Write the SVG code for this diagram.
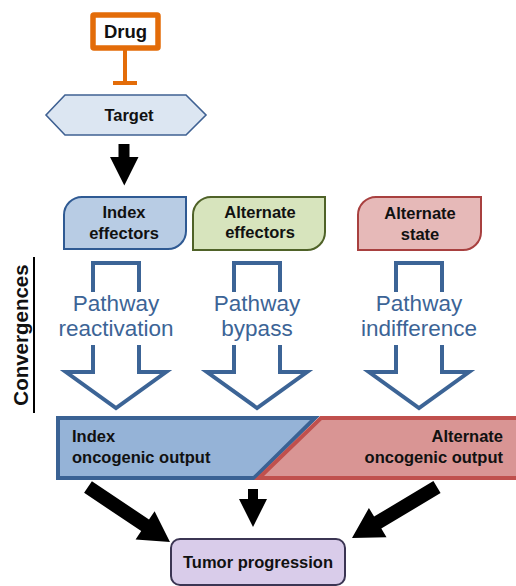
<svg xmlns="http://www.w3.org/2000/svg" width="516" height="586" viewBox="0 0 516 586">
<style>
.lbl{font-family:"Liberation Sans",Arial,Helvetica,sans-serif;font-weight:bold;font-size:16.5px;fill:#111;}
.mid{text-anchor:middle;}
.pw{font-family:"Liberation Sans",Arial,Helvetica,sans-serif;font-size:22.5px;fill:#3c6496;text-anchor:middle;}
.hollow{fill:none;stroke:#3c6496;stroke-width:4;stroke-linejoin:miter;}
.blk{fill:#000;}
</style>
<rect width="516" height="586" fill="#fff"/>
<g id="connectors">
  <line x1="125" y1="48" x2="125" y2="83" stroke="#e36c09" stroke-width="4"/>
  <line x1="113" y1="83" x2="137" y2="83" stroke="#e36c09" stroke-width="4"/>
  <polygon class="blk" points="118.5,144 129.5,144 129.5,157 138.5,157 124.3,185.5 110,157 118.5,157"/>
  <g id="reactivation">
    <path class="hollow" d="M93,292 V263 H139 V292"/>
    <path class="hollow" d="M93,345 V372 H66 L116,408 L166,372 H139 V345"/>
    <text class="pw" x="116" y="311">Pathway</text>
    <text class="pw" x="116" y="336">reactivation</text>
  </g>
  <g id="bypass">
    <path class="hollow" d="M234,292 V263 H280 V292"/>
    <path class="hollow" d="M234,345 V372 H207 L257,408 L307,372 H280 V345"/>
    <text class="pw" x="257" y="311">Pathway</text>
    <text class="pw" x="257" y="336">bypass</text>
  </g>
  <g id="indifference">
    <path class="hollow" d="M396,292 V263 H442 V292"/>
    <path class="hollow" d="M396,345 V372 H369 L419,408 L469,372 H442 V345"/>
    <text class="pw" x="419" y="311">Pathway</text>
    <text class="pw" x="419" y="336">indifference</text>
  </g>
  <polygon class="blk" points="91.9,481.2 149.0,519.5 154.6,511.2 170,542 135.6,539.4 141.2,531.1 84.1,492.8"/>
  <polygon class="blk" points="248,489 258,489 258,499 267,499 253,527 239,499 248,499"/>
  <polygon class="blk" points="433.4,481.0 374.1,516.6 368.9,508.0 352,538 386.5,537.2 381.3,528.6 440.6,493.0"/>
</g>
<g id="convergences">
  <line x1="34" y1="257" x2="34" y2="413" stroke="#000" stroke-width="2"/>
  <text class="lbl mid" transform="translate(28,335) rotate(-90)" style="font-size:20.5px">Convergences</text>
</g>
<g id="drug">
  <rect x="93" y="15" width="65" height="33" rx="1" fill="#fff" stroke="#e36c09" stroke-width="5.5"/>
  <text class="lbl mid" x="125.5" y="38" style="font-size:18.5px">Drug</text>
</g>
<g id="target">
  <polygon points="46,115 65,95 186,95 206,115 186,135 65,135" fill="#dce6f2" stroke="#3f6193" stroke-width="1.6"/>
  <text class="lbl mid" x="129" y="121">Target</text>
</g>
<g id="index-effectors">
  <path d="M64,249 V215 A18,18 0 0 1 82,197 H186 V231 A18,18 0 0 1 168,249 Z" fill="#b8cce4" stroke="#2f5a93" stroke-width="2"/>
  <text class="lbl mid" x="124" y="218">Index</text>
  <text class="lbl mid" x="124" y="239">effectors</text>
</g>
<g id="alternate-effectors">
  <path d="M193,250 V215 A18,18 0 0 1 211,197 H325 V232 A18,18 0 0 1 307,250 Z" fill="#d7e4bd" stroke="#4f6228" stroke-width="2"/>
  <text class="lbl mid" x="260" y="218">Alternate</text>
  <text class="lbl mid" x="260" y="238">effectors</text>
</g>
<g id="alternate-state">
  <path d="M358,250 V215 A18,18 0 0 1 376,197 H481 V232 A18,18 0 0 1 463,250 Z" fill="#e6b9b8" stroke="#a8403f" stroke-width="2"/>
  <text class="lbl mid" x="420" y="219">Alternate</text>
  <text class="lbl mid" x="420" y="240">state</text>
</g>
<g id="index-output">
  <polygon points="58,418 315,418 254,478 58,478" fill="#95b3d7" stroke="#3a6294" stroke-width="4"/>
  <text class="lbl" x="72" y="442">Index</text>
  <text class="lbl" x="72" y="463">oncogenic output</text>
</g>
<g id="alternate-output">
  <polygon points="321,418 522,418 522,478 259,478" fill="#d99594" stroke="#c0504d" stroke-width="4"/>
  <text class="lbl" x="503" y="442" text-anchor="end">Alternate</text>
  <text class="lbl" x="503" y="463" text-anchor="end">oncogenic output</text>
</g>
<g id="tumor-progression">
  <rect x="171" y="539" width="174" height="46" rx="9" fill="#d9ccea" stroke="#3b3553" stroke-width="2"/>
  <text class="lbl mid" x="258" y="568">Tumor progression</text>
</g>
</svg>
